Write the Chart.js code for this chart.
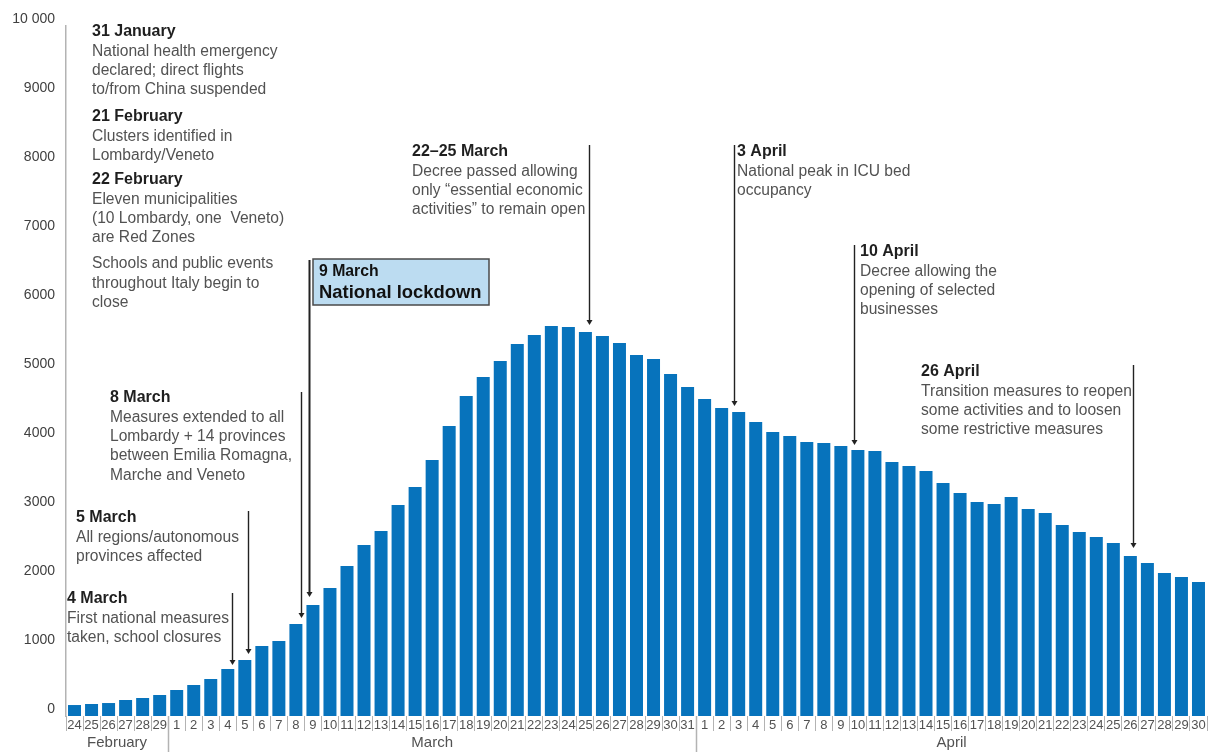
<!DOCTYPE html>
<html><head><meta charset="utf-8">
<script src="https://cdn.jsdelivr.net/npm/chart.js@4/dist/chart.umd.min.js"></script>
<style>html,body{margin:0;padding:0;background:#fff}#wrap{width:1212px;height:752px;position:relative}</style>
</head><body><div id="wrap"><canvas id="c" width="1212" height="752"></canvas></div>
<script>
const dayLabels = ['24','25','26','27','28','29',
 '1','2','3','4','5','6','7','8','9','10','11','12','13','14','15','16','17','18','19','20','21','22','23','24','25','26','27','28','29','30','31',
 '1','2','3','4','5','6','7','8','9','10','11','12','13','14','15','16','17','18','19','20','21','22','23','24','25','26','27','28','29','30'];
const monthNames = ['February','March','April'];
const monthDays = [6,31,30];
const febValues = [159,174,188,232,261,304];
const marValues = [377,449,536,681,812,1014,1087,1333,1609,1855,2174,2478,2681,3058,3319,3710,4203,4638,4913,5145,5391,5522,5652,5638,5565,5507,5406,5232,5174,4957,4768];
const aprValues = [4594,4464,4406,4261,4116,4058,3971,3957,3913,3855,3841,3681,3623,3551,3377,3232,3101,3072,3174,3000,2942,2768,2667,2594,2507,2319,2217,2072,2014,1942];
const values = febValues.concat(marValues, aprValues);
const yTicks = [0,1000,2000,3000,4000,5000,6000,7000,8000,9000,10000];

const FONT = "'Liberation Sans', Arial, Helvetica, sans-serif";
const BAR = '#0773bc';
const AXIS = '#b3b3b3';
const TXT = '#525252';
const HEAD = '#1f1f1f';

// annotation arrows: category index, pixel nudge, top (in data units), gap above bar
const arrows = [
  {idx:9,  dx:4,   top:1783, gap:4},
  {idx:10, dx:3,   top:2971, gap:6},
  {idx:13, dx:5.5, top:4696, gap:6},
  {idx:14, dx:-3.5,top:6609, gap:8, w:2},
  {idx:30, dx:3.5, top:8275, gap:7},
  {idx:39, dx:-5,  top:8275, gap:6},
  {idx:46, dx:-4,  top:6826, gap:5},
  {idx:62, dx:3,   top:5087, gap:8}
];
const notes = [
  {x:92, y:32, head:'31 January', lines:['National health emergency','declared; direct flights','to/from China suspended']},
  {x:92, y:117, head:'21 February', lines:['Clusters identified in','Lombardy/Veneto']},
  {x:92, y:180, head:'22 February', lines:['Eleven municipalities','(10 Lombardy, one  Veneto)','are Red Zones']},
  {x:92, y:264, head:null, lines:['Schools and public events','throughout Italy begin to','close']},
  {x:110, y:398, head:'8 March', lines:['Measures extended to all','Lombardy + 14 provinces','between Emilia Romagna,','Marche and Veneto']},
  {x:76, y:518, head:'5 March', lines:['All regions/autonomous','provinces affected']},
  {x:67, y:599, head:'4 March', lines:['First national measures','taken, school closures']},
  {x:412, y:152, head:'22\u201325 March', lines:['Decree passed allowing','only \u201cessential economic','activities\u201d to remain open']},
  {x:737, y:152, head:'3 April', lines:['National peak in ICU bed','occupancy']},
  {x:860, y:252, head:'10 April', lines:['Decree allowing the','opening of selected','businesses']},
  {x:921, y:372, head:'26 April', lines:['Transition measures to reopen','some activities and to loosen','some restrictive measures']}
];

const annot = {
  id:'annot',
  afterDraw(chart){
    const ctx = chart.ctx, xs = chart.scales.x, ys = chart.scales.y;
    const bottom = chart.chartArea.bottom;
    ctx.save();
    // month separators and labels
    let start = 0;
    ctx.strokeStyle = AXIS; ctx.lineWidth = 1.5;
    ctx.fillStyle = TXT; ctx.font = '15px ' + FONT; ctx.textAlign = 'center'; ctx.textBaseline = 'middle';
    monthDays.forEach((n, m) => {
      const x0 = xs.getPixelForValue(start - 0.5), x1 = xs.getPixelForValue(start + n - 0.5);
      ctx.fillText(monthNames[m], (x0 + x1) / 2, 743);
      if (m > 0) { ctx.beginPath(); ctx.moveTo(Math.round(x0)+0.5, bottom); ctx.lineTo(Math.round(x0)+0.5, 752); ctx.stroke(); }
      start += n;
    });
    // text notes
    ctx.textAlign = 'left';
    notes.forEach(nt => {
      let y = nt.y;
      if (nt.head) { ctx.font = 'bold 16px ' + FONT; ctx.fillStyle = HEAD; ctx.fillText(nt.head, nt.x, y); y += 19.3; }
      ctx.font = '15.6px ' + FONT; ctx.fillStyle = TXT;
      nt.lines.forEach(l => { ctx.fillText(l, nt.x, y); y += 19.3; });
    });
    // lockdown box
    ctx.fillStyle = '#bcdcf1'; ctx.strokeStyle = '#4a4a4a'; ctx.lineWidth = 1.5;
    ctx.fillRect(313, 259, 176, 46); ctx.strokeRect(313, 259, 176, 46);
    ctx.fillStyle = '#111';
    ctx.font = 'bold 15.8px ' + FONT; ctx.fillText('9 March', 319, 272);
    ctx.font = 'bold 18.4px ' + FONT; ctx.fillText('National lockdown', 319, 293);
    // arrows
    ctx.strokeStyle = '#222'; ctx.fillStyle = '#222';
    arrows.forEach(a => {
      const x = Math.round(xs.getPixelForValue(a.idx) + a.dx) + 0.5;
      const yTop = ys.getPixelForValue(a.top);
      const yTip = ys.getPixelForValue(values[a.idx]) - a.gap;
      ctx.lineWidth = a.w || 1.4;
      ctx.beginPath(); ctx.moveTo(x, yTop); ctx.lineTo(x, yTip - 3); ctx.stroke();
      ctx.beginPath(); ctx.moveTo(x - 3, yTip - 5); ctx.lineTo(x + 3, yTip - 5); ctx.lineTo(x, yTip); ctx.closePath(); ctx.fill();
    });
    ctx.restore();
  }
};

new Chart(document.getElementById('c'), {
  type:'bar',
  data:{labels:dayLabels, datasets:[{data:values, backgroundColor:BAR, borderWidth:0, barPercentage:0.763, categoryPercentage:1}]},
  options:{
    responsive:false, animation:false, devicePixelRatio:1,
    layout:{padding:{top:26, right:5, left:0, bottom:0}},
    plugins:{legend:{display:false}, tooltip:{enabled:false}},
    scales:{
      x:{
        grid:{display:true, drawOnChartArea:false, drawTicks:true, tickLength:15, color:AXIS, lineWidth:1, offset:true},
        border:{display:false},
        ticks:{autoSkip:false, maxRotation:0, minRotation:0, padding:-13, color:TXT, font:{size:13, family:FONT}},
        afterFit(s){ s.height = 36; }
      },
      y:{
        min:0, max:10000,
        afterBuildTicks(s){ s.ticks = yTicks.map(v => ({value:v})); },
        grid:{display:false, drawTicks:false},
        border:{display:true, color:AXIS, width:1.5},
        ticks:{padding:11, labelOffset:-7, color:'#404040', font:{size:14, family:FONT}, callback:v => v === 10000 ? '10 000' : String(v)},
        afterFit(s){ s.width = 66; }
      }
    }
  },
  plugins:[annot]
});
</script>
</body></html>
